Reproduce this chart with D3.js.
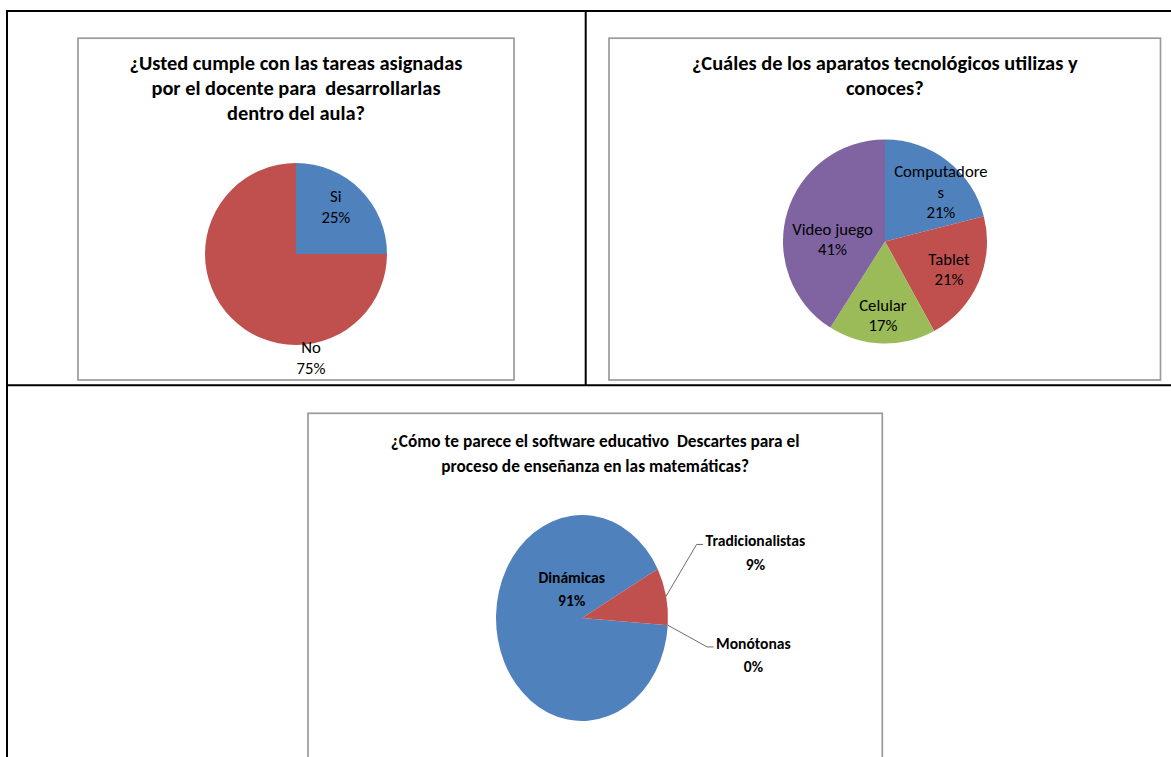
<!DOCTYPE html>
<html>
<head>
<meta charset="utf-8">
<script src="https://cdn.jsdelivr.net/npm/d3@7"></script>
<style>
  html, body { margin: 0; padding: 0; background: #fff; }
  svg { display: block; }
  text { font-family: Carlito, Calibri, Lato, sans-serif; white-space: pre; fill: #000; }
</style>
</head>
<body>
<svg id="chart" width="1171" height="757"></svg>
<script>
// ---- Survey answers (percent of students) ----
const tareasTitle = ["¿Usted cumple con las tareas asignadas", "por el docente para  desarrollarlas", "dentro del aula?"];
const tareasCategories = ["Si", "No"];
const tareasValues = [25, 75];

const aparatosTitle = ["¿Cuáles de los aparatos tecnológicos utilizas y", "conoces?"];
const aparatosCategories = ["Computadores", "Tablet", "Celular", "Video juego"];
const aparatosValues = [21, 21, 17, 41];

const softwareTitle = ["¿Cómo te parece el software educativo  Descartes para el", "proceso de enseñanza en las matemáticas?"];
const softwareCategories = ["Dinámicas", "Tradicionalistas", "Monótonas"];
const softwareValues = [91, 9, 0];

// Office palette used by the pies
const officeColors = ["#4F81BD", "#C0504D", "#9BBB59", "#8064A2"];

const svg = d3.select("#chart");

// ---- Table grid around the charts ----
const grid = svg.append("g").attr("stroke", "#000").attr("stroke-width", 2);
grid.append("line").attr("x1", 6).attr("x2", 1171).attr("y1", 11).attr("y2", 11);
grid.append("line").attr("x1", 7).attr("x2", 7).attr("y1", 10).attr("y2", 757);
grid.append("line").attr("x1", 585.7).attr("x2", 585.7).attr("y1", 10).attr("y2", 386);
grid.append("line").attr("x1", 6).attr("x2", 1171).attr("y1", 385.3).attr("y2", 385.3);

// Wrap a label the way the spreadsheet does: break long single words at a fixed width
function wrapName(name, maxChars) {
  if (!maxChars || name.length <= maxChars || name.includes(" ")) return [name];
  const parts = [];
  for (let i = 0; i < name.length; i += maxChars) parts.push(name.slice(i, i + maxChars));
  return parts;
}

function drawPie(cfg) {
  const g = svg.append("g");

  // chart area frame
  g.append("rect")
    .attr("x", cfg.box[0]).attr("y", cfg.box[1])
    .attr("width", cfg.box[2] - cfg.box[0]).attr("height", cfg.box[3] - cfg.box[1])
    .attr("fill", "#fff").attr("stroke", "#9a9a9a").attr("stroke-width", 1.7);

  // title
  const tx = (cfg.box[0] + cfg.box[2]) / 2;
  const title = g.append("text")
    .attr("text-anchor", "middle")
    .attr("font-weight", "bold")
    .attr("font-size", cfg.titleSize)
    .attr("dominant-baseline", "central");
  cfg.title.forEach((line, i) => {
    title.append("tspan").attr("x", tx).attr("y", cfg.box[1] + cfg.titleTop + i * cfg.titleLead).text(line);
  });

  const total = d3.sum(cfg.values);
  const data = cfg.categories.map((c, i) => ({ name: c, value: cfg.values[i], color: officeColors[i] }));
  const pie = d3.pie().sort(null).value(d => d.value)
    .startAngle(cfg.start).endAngle(cfg.start + 2 * Math.PI);
  const arcs = pie(data);

  const R = cfg.ry;
  const sx = cfg.rx / cfg.ry;
  const arc = d3.arc().innerRadius(0).outerRadius(R);

  g.append("g")
    .attr("transform", `translate(${cfg.cx},${cfg.cy}) scale(${sx},1)`)
    .selectAll("path")
    .data(arcs)
    .join("path")
    .attr("d", arc)
    .attr("fill", d => d.data.color);

  // map a polar position (angle clockwise from 12 o'clock, radius as a fraction) to the page
  const toPage = (angle, frac) => [
    cfg.cx + Math.sin(angle) * frac * cfg.rx,
    cfg.cy - Math.cos(angle) * frac * cfg.ry
  ];
  const fmt = d3.format(".0%");

  arcs.forEach((a, i) => {
    const pos = cfg.labelPos[i];
    const [lx, ly] = toPage(pos[0] * Math.PI / 180, pos[1]);
    const lines = wrapName(a.data.name, cfg.wrap).concat([fmt(a.data.value / total)]);
    const t = g.append("text")
      .attr("text-anchor", "middle")
      .attr("font-size", cfg.labelSize)
      .attr("font-weight", cfg.labelWeight)
      .attr("dominant-baseline", "central");
    const y0 = ly - (lines.length - 1) / 2 * cfg.labelLead;
    lines.forEach((line, k) => {
      t.append("tspan").attr("x", lx).attr("y", y0 + k * cfg.labelLead).text(line);
    });

    // leader line for labels placed outside the pie
    if (pos[2]) {
      const bb = t.node().getBBox();
      const mid = (a.startAngle + a.endAngle) / 2;
      const [ex, ey] = toPage(mid, 1);
      const endX = bb.x - 2.5, endY = y0 + 4;
      g.append("polyline")
        .attr("points", [[ex, ey], [endX - 6.5, endY], [endX, endY]].map(p => p.join(",")).join(" "))
        .attr("fill", "none")
        .attr("stroke", "#6d6d6d")
        .attr("stroke-width", 1);
    }
  });
}

drawPie({
  box: [78, 38.2, 514, 380],
  title: tareasTitle, titleSize: 20.4, titleTop: 25, titleLead: 25,
  categories: tareasCategories, values: tareasValues,
  cx: 296, cy: 254, rx: 91, ry: 91, start: 0,
  labelSize: 16.7, labelWeight: "normal", labelLead: 21,
  labelPos: [[40.1, 0.68], [171.8, 1.15]]
});

drawPie({
  box: [609, 38.2, 1160.5, 380],
  title: aparatosTitle, titleSize: 20.4, titleTop: 25, titleLead: 25,
  categories: aparatosCategories, values: aparatosValues,
  cx: 885, cy: 241.5, rx: 102, ry: 102, start: 0, wrap: 11,
  labelSize: 16.7, labelWeight: "normal", labelLead: 20.5,
  labelPos: [[48.2, 0.735], [113.3, 0.683], [181.6, 0.72], [272.7, 0.515]]
});

drawPie({
  box: [308, 413.3, 882.3, 800],
  title: softwareTitle, titleSize: 17.3, titleTop: 27.7, titleLead: 24.7,
  categories: softwareCategories, values: softwareValues,
  cx: 582, cy: 618, rx: 86, ry: 103, start: 94 * Math.PI / 180,
  labelSize: 15.6, labelWeight: "bold", labelLead: 23.3,
  labelPos: [[337.3, 0.311], [72.4, 2.116, true], [100.1, 2.025, true]]
});
</script>
</body>
</html>
